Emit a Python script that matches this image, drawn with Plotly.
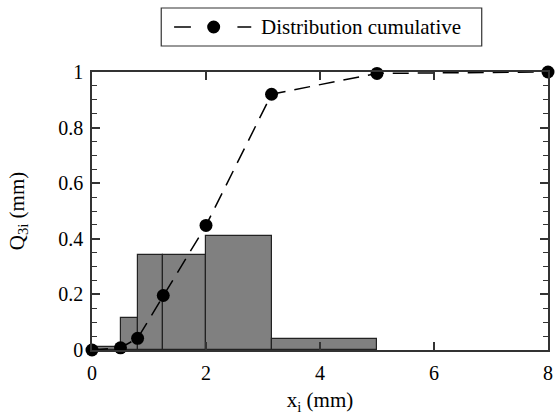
import plotly.graph_objects as go

# Data
bin_edges = [0, 0.5, 0.8, 1.25, 2, 3.15, 5]
bin_heights = [0.01, 0.115, 0.343, 0.343, 0.41, 0.04]
cum_x = [0, 0.5, 0.8, 1.25, 2, 3.15, 5, 8]
cum_y = [0.0, 0.008, 0.042, 0.196, 0.448, 0.92, 0.995, 1.0]
legend_label = "Distribution cumulative"

centers = [(a + b) / 2 for a, b in zip(bin_edges[:-1], bin_edges[1:])]
widths = [b - a for a, b in zip(bin_edges[:-1], bin_edges[1:])]

FONT = "Liberation Serif, Times New Roman, serif"
W, H = 559, 420
ML, MR, MT, MB = 92, 6, 72, 70
PW, PH = W - ML - MR, H - MT - MB

def px(x):
    return (x - ML) / PW

def py(y):
    return (H - MB - y) / PH

fig = go.Figure()
fig.add_trace(go.Bar(
    x=centers, y=bin_heights, width=widths,
    marker=dict(color="#808080", line=dict(color="#222222", width=1.2)),
    showlegend=False,
))
fig.add_trace(go.Scatter(
    x=cum_x, y=cum_y, mode="lines+markers",
    name=legend_label,
    line=dict(color="black", width=1.5, dash="16px,9px"),
    marker=dict(color="black", size=13, symbol="circle"),
    cliponaxis=False, showlegend=False,
))

# custom legend box (wide symbol as in the reference)
ly = py(27)
shapes = [
    dict(type="rect", xref="paper", yref="paper", x0=px(162), x1=px(486), y0=py(46), y1=py(8),
         line=dict(color="#333333", width=1.2), fillcolor="white"),
    dict(type="line", xref="paper", yref="paper", x0=px(175), x1=px(192), y0=ly, y1=ly,
         line=dict(color="black", width=1.5)),
    dict(type="line", xref="paper", yref="paper", x0=px(239), x1=px(253), y0=ly, y1=ly,
         line=dict(color="black", width=1.5)),
    dict(type="circle", xref="paper", yref="paper", xsizemode="pixel", ysizemode="pixel",
         xanchor=px(215), yanchor=ly, x0=-6.5, x1=6.5, y0=-6.5, y1=6.5,
         line=dict(color="black", width=0), fillcolor="black"),
]
annotations = [
    dict(text=legend_label, xref="paper", yref="paper", x=px(261), y=ly,
         xanchor="left", yanchor="middle", showarrow=False,
         font=dict(family=FONT, size=21, color="black")),
]

axis_common = dict(
    showline=True, linecolor="#333333", linewidth=1.5, mirror="allticks",
    ticks="inside", ticklen=8, tickwidth=1.5, tickcolor="#333333",
    showgrid=False, zeroline=False,
    tickfont=dict(family=FONT, size=20, color="black"),
)

fig.update_layout(
    width=W, height=H,
    margin=dict(l=ML, r=MR, t=MT, b=MB),
    plot_bgcolor="white", paper_bgcolor="white",
    font=dict(family=FONT, size=20, color="black"),
    bargap=0,
    showlegend=False,
    shapes=shapes,
    annotations=annotations,
    xaxis=dict(
        range=[0, 8], tickvals=[0, 2, 4, 6, 8], ticktext=["0", "2", "4", "6", "8"],
        ticklabelstandoff=4,
        title=dict(text="x<sub>i</sub> (mm)", font=dict(family=FONT, size=21), standoff=10),
        **axis_common,
    ),
    yaxis=dict(
        range=[0, 1], tickvals=[0, 0.2, 0.4, 0.6, 0.8, 1], ticktext=["0", "0.2", "0.4", "0.6", "0.8", "1"],
        minor=dict(ticks="inside", dtick=0.05, ticklen=5, tickwidth=1.2, tickcolor="#333333"),
        ticklabelstandoff=3,
        title=dict(text="Q<sub>3i</sub> (mm)", font=dict(family=FONT, size=21), standoff=28),
        **axis_common,
    ),
)

fig.write_html("out.html")
